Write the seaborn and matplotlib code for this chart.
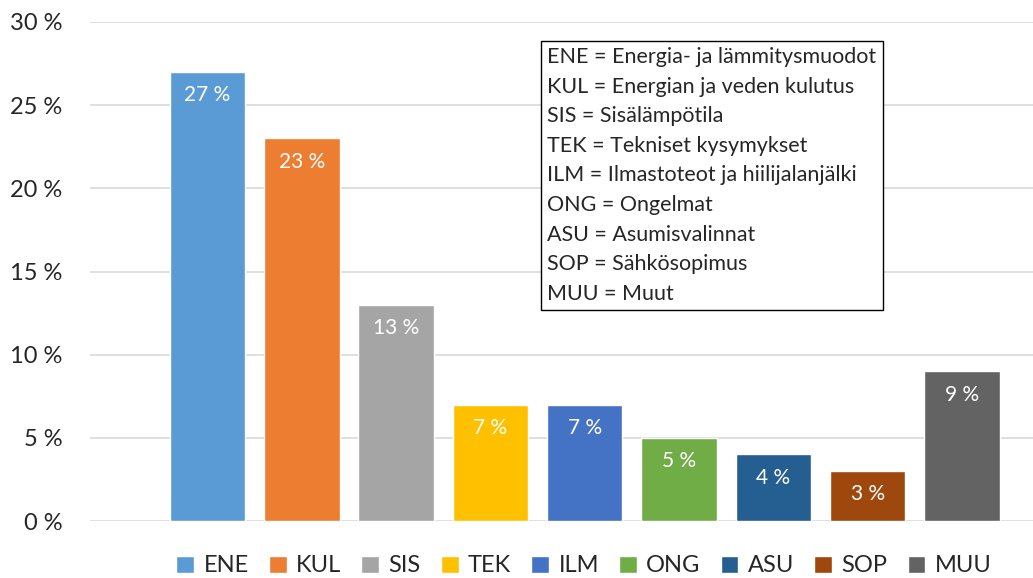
import matplotlib
matplotlib.use("Agg")
import matplotlib.pyplot as plt
import seaborn as sns

categories = ["ENE", "KUL", "SIS", "TEK", "ILM", "ONG", "ASU", "SOP", "MUU"]
values = [27, 23, 13, 7, 7, 5, 4, 3, 9]
colors = ["#5B9BD5", "#ED7D31", "#A5A5A5", "#FFC000", "#4472C4",
          "#70AD47", "#255E91", "#9E480E", "#636363"]
y_ticks = [0, 5, 10, 15, 20, 25, 30]
explanations = [
    "ENE = Energia- ja lämmitysmuodot",
    "KUL = Energian ja veden kulutus",
    "SIS = Sisälämpötila",
    "TEK = Tekniset kysymykset",
    "ILM = Ilmastoteot ja hiilijalanjälki",
    "ONG = Ongelmat",
    "ASU = Asumisvalinnat",
    "SOP = Sähkösopimus",
    "MUU = Muut",
]

sns.set_style("white")
plt.rcParams["font.family"] = ["Lato", "DejaVu Sans"]

W, H = 1033, 578
fig = plt.figure(figsize=(W / 100, H / 100), dpi=100)
ax = fig.add_axes([90 / W, (H - 521) / H, (W - 90) / W, (521 - 22) / H])

sns.barplot(x=categories, y=values, hue=categories, palette=colors,
            order=categories, hue_order=categories, width=0.8,
            dodge=False, legend=True, ax=ax, saturation=1)

for i, v in enumerate(values):
    ax.text(i, v - 1.4, f"{v} %", ha="center", va="center",
            color="white", fontsize=15)

ax.set_xlim(-1.246, 8.754)
ax.set_ylim(0, 30)
ax.set_yticks(y_ticks)
ax.set_yticklabels([f"{t} %" for t in y_ticks], fontsize=17)
ax.set_xticks([])
ax.set_xlabel("")
ax.set_ylabel("")
ax.yaxis.grid(True, color="#d9d9d9", linewidth=1.2)
ax.set_axisbelow(True)
ax.tick_params(axis="y", length=0, pad=20)
for s in ax.spines.values():
    s.set_visible(False)

sns.move_legend(ax, "center", bbox_to_anchor=(584 / W, 1 - 566 / H),
                bbox_transform=fig.transFigure,
                ncol=9, frameon=False, fontsize=17, handlelength=0.75,
                handleheight=0.75, handletextpad=0.4, columnspacing=0.85,
                title=None, borderpad=0, borderaxespad=0)

fig.text(547 / W, 1 - 47 / H, "\n".join(explanations), ha="left", va="top",
         fontsize=15.5, linespacing=1.6,
         bbox=dict(boxstyle="square,pad=0.3", facecolor="white",
                   edgecolor="black", linewidth=1))

fig.savefig("out.png", dpi=100)
